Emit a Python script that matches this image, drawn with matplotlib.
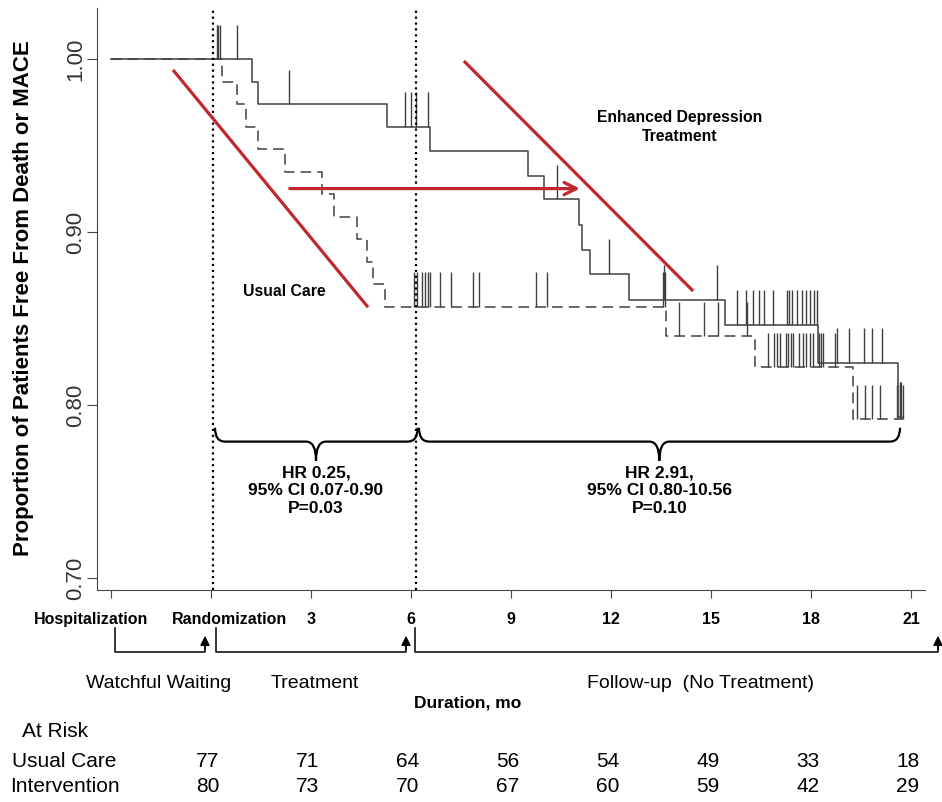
import numpy as np
import matplotlib
matplotlib.use("Agg")
import matplotlib.pyplot as plt
import matplotlib.transforms as mtransforms
from matplotlib.path import Path
from matplotlib.patches import PathPatch

# --- datos ---
# Intervencion (linea continua)
iv_times = [-3, 1.23, 1.41, 5.28, 6.57, 9.52, 9.99, 11.05, 11.13, 11.36, 12.55, 15.42, 18.22, 20.62]
iv_surv = [1.0, 0.987, 0.974, 0.961, 0.947, 0.9325, 0.919, 0.904, 0.890, 0.876, 0.861, 0.8465, 0.8247, 0.7935]
iv_end = 20.72
iv_cens = [0.17, 0.22, 0.27, 0.77, 2.34, 5.82, 6.0, 6.14, 6.52, 10.38, 11.93, 13.58, 15.17,
           15.79, 16.04, 16.27, 16.45, 16.59, 16.85, 17.29, 17.35, 17.42, 17.57, 17.72, 17.85,
           17.97, 18.09, 18.19, 18.77, 19.15, 19.59, 19.82, 20.12, 20.66, 20.70]

# Cuidado usual (linea discontinua)
uc_times = [-3, 0.33, 0.78, 1.05, 1.41, 2.22, 3.33, 3.69, 4.38, 4.68, 4.86, 5.22, 13.66, 16.32, 19.27]
uc_surv = [1.0, 0.987, 0.974, 0.961, 0.948, 0.935, 0.922, 0.909, 0.896, 0.883, 0.870, 0.857, 0.840, 0.822, 0.792]
uc_end = 20.75
uc_cens = [6.10, 6.17, 6.32, 6.42, 6.50, 6.58, 6.87, 7.19, 7.87, 8.05, 9.75, 10.09, 13.55, 13.62,
           14.03, 14.79, 15.22, 16.07, 16.72, 16.89, 16.99, 17.07, 17.25, 17.32, 17.39, 17.47,
           17.65, 17.75, 17.85, 17.97, 18.07, 18.25, 18.29, 18.35, 18.72, 19.37, 19.62, 19.82,
           20.07, 20.57, 20.67, 20.75]

tick_pos = [-3, 0, 3, 6, 9, 12, 15, 18, 21]
tick_labels = ["Hospitalization", "Randomization", "3", "6", "9", "12", "15", "18", "21"]
ytick_pos = [0.70, 0.80, 0.90, 1.00]
ytick_labels = ["0.70", "0.80", "0.90", "1.00"]

risk_times = [0, 3, 6, 9, 12, 15, 18, 21]
risk_usual = [77, 71, 64, 56, 54, 49, 33, 18]
risk_interv = [80, 73, 70, 67, 60, 59, 42, 29]

hr_texts = ["HR 0.25,\n95% CI 0.07-0.90\nP=0.03", "HR 2.91,\n95% CI 0.80-10.56\nP=0.10"]

plt.rcParams["font.family"] = ["Liberation Sans", "DejaVu Sans"]

W, H = 942, 802
fig = plt.figure(figsize=(W / 100, H / 100), dpi=100)
ax = fig.add_axes([97 / W, 1 - 590 / H, 828 / W, 582 / H])
ax.set_xlim(-3.42, 21.42)
ax.set_ylim(0.6932, 1.0297)

fy = lambda py: 1 - py / H   # pixel -> fraccion de figura
trans = mtransforms.blended_transform_factory(ax.transData, fig.transFigure)

gris = "#404040"
rojo = "#c0282d"

# curvas de Kaplan-Meier
ax.step(iv_times + [iv_end], iv_surv + [iv_surv[-1]], where="post", color=gris, lw=1.1)
ax.step(uc_times + [uc_end], uc_surv + [uc_surv[-1]], where="post", color=gris, lw=1.1,
        dashes=(7, 4))

# marcas de censura
for times, surv, cens in [(iv_times, iv_surv, iv_cens), (uc_times, uc_surv, uc_cens)]:
    idx = np.searchsorted(times, cens, side="right") - 1
    yv = np.array(surv)[idx]
    ax.vlines(cens, yv, yv + 0.02, color=gris, lw=1.0)

# lineas punteadas verticales
for xv in [0.05, 6.15]:
    ax.axvline(xv, color="black", ls=":", lw=1.6)

# lineas rojas y flecha
ax.plot([-1.11, 4.68], [0.9932, 0.8574], color=rojo, lw=2.3)
ax.plot([7.62, 14.43], [0.9984, 0.8667], color=rojo, lw=2.3)
ax.annotate("", xy=(11.15, 0.9253), xytext=(2.28, 0.9253),
            arrowprops=dict(arrowstyle="->", color=rojo, lw=2.3, mutation_scale=22))

ax.text(14.07, 0.961, "Enhanced Depression\nTreatment", ha="center", va="center",
        fontsize=11.3, fontweight="bold", linespacing=1.35)
ax.text(2.2, 0.8657, "Usual Care", ha="center", va="center", fontsize=11.3, fontweight="bold")

# llaves
def llave(x0, x1, xc, ybar, ytip, ybot, dx=0.3):
    verts = [(x0, ytip), (x0, ybar), (x0 + dx, ybar), (xc - dx, ybar),
             (xc, ybar), (xc, ybot), (xc, ybar), (xc + dx, ybar),
             (x1 - dx, ybar), (x1, ybar), (x1, ytip)]
    codes = [Path.MOVETO, Path.CURVE3, Path.CURVE3, Path.LINETO,
             Path.CURVE3, Path.CURVE3, Path.CURVE3, Path.CURVE3,
             Path.LINETO, Path.CURVE3, Path.CURVE3]
    ax.add_patch(PathPatch(Path(verts, codes), fill=False, lw=1.6, color="black"))

llave(0.12, 6.2, 3.15, 0.779, 0.787, 0.768)
llave(6.24, 20.67, 13.45, 0.779, 0.787, 0.768)
ax.text(3.15, 0.765, hr_texts[0], ha="center", va="top", fontsize=12.5,
        fontweight="bold", linespacing=1.2)
ax.text(13.45, 0.765, hr_texts[1], ha="center", va="top", fontsize=12.5,
        fontweight="bold", linespacing=1.2)

# ejes
for s in ["top", "right"]:
    ax.spines[s].set_visible(False)
for s in ["left", "bottom"]:
    ax.spines[s].set_color("#444444")
ax.set_xticks(tick_pos)
ax.set_xticklabels([])
ax.tick_params(axis="x", length=6, color="#444444")
ax.set_yticks(ytick_pos)
ax.set_yticklabels(ytick_labels, rotation=90, va="center", fontsize=16, color="#333333")
ax.tick_params(axis="y", length=7, pad=1, color="#444444")

label_x = [-3.6, 0.57] + tick_pos[2:]
for xv, lab in zip(label_x, tick_labels):
    ax.text(xv, fy(624), lab, transform=trans, ha="center", va="baseline",
            fontsize=11.5, fontweight="bold")

fig.text(24 / W, fy(298), "Proportion of Patients Free From Death or MACE", rotation=90,
         ha="center", va="center", fontsize=16, fontweight="bold")

# corchetes de periodos con flechas
periodos = [(-2.88, -0.18), (0.15, 5.85), (6.12, 21.81)]
for x0, x1 in periodos:
    ax.plot([x0, x0, x1, x1], [fy(628), fy(652), fy(652), fy(645)], transform=trans,
            color="black", lw=1.1, clip_on=False)
    ax.annotate("", xy=(x1, fy(633)), xytext=(x1, fy(652)), xycoords=trans,
                textcoords=trans,
                arrowprops=dict(arrowstyle="-|>", color="black", lw=1.1, mutation_scale=14))

ax.text(-1.56, fy(688), "Watchful Waiting", transform=trans, ha="center", va="baseline", fontsize=14)
ax.text(3.12, fy(688), "Treatment", transform=trans, ha="center", va="baseline", fontsize=14)
ax.text(14.7, fy(688), "Follow-up  (No Treatment)", transform=trans, ha="center",
        va="baseline", fontsize=14)
ax.text(7.71, fy(708), "Duration, mo", transform=trans, ha="center", va="baseline",
        fontsize=12.5, fontweight="bold")

# tabla de pacientes en riesgo
fig.text(22 / W, fy(737), "At Risk", ha="left", va="baseline", fontsize=15)
fig.text(12 / W, fy(767), "Usual Care", ha="left", va="baseline", fontsize=15)
fig.text(10 / W, fy(792), "Intervention", ha="left", va="baseline", fontsize=15)
for t, u, i in zip(risk_times, risk_usual, risk_interv):
    ax.text(t - 0.1, fy(767), str(u), transform=trans, ha="center", va="baseline", fontsize=15)
    ax.text(t - 0.1, fy(792), str(i), transform=trans, ha="center", va="baseline", fontsize=15)

fig.savefig("out.png", dpi=100)
